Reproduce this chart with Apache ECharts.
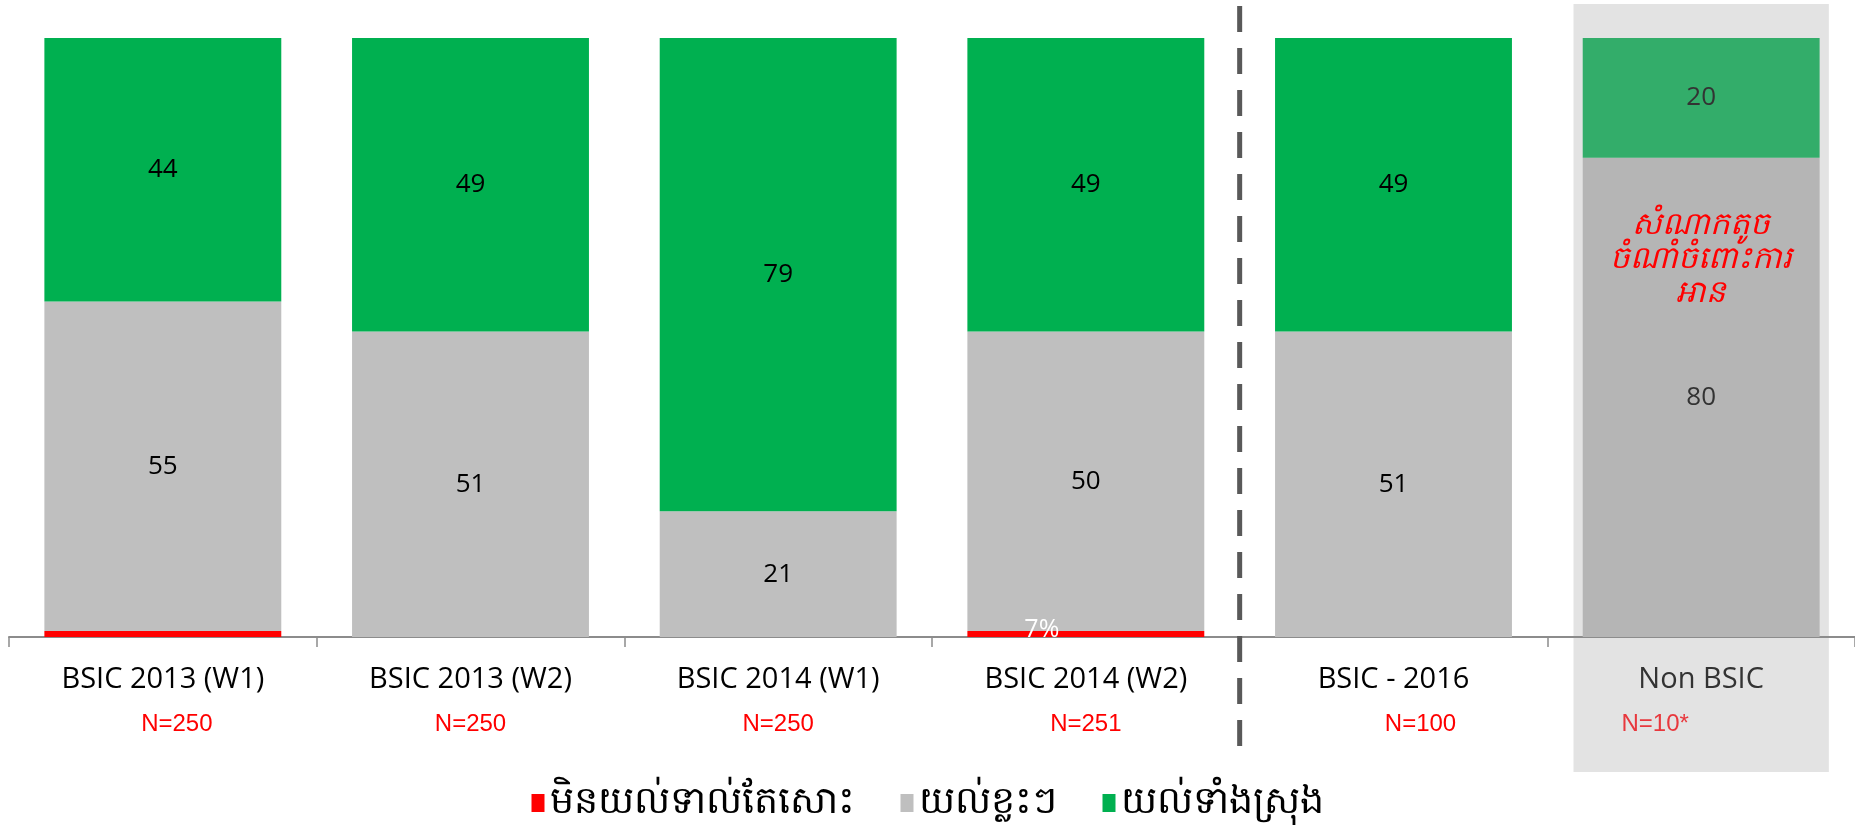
<!DOCTYPE html>
<html>
<head>
<meta charset="utf-8">
<script src="https://cdn.jsdelivr.net/npm/echarts@6/dist/echarts.min.js"></script>
<style>
  html, body { margin: 0; padding: 0; background: #fff; }
  #chart { width: 1855px; height: 831px; }
</style>
</head>
<body>
<div id="chart"></div>
<script>
// categories and sample sizes
const categories = ['BSIC 2013 (W1)', 'BSIC 2013 (W2)', 'BSIC 2014 (W1)', 'BSIC 2014 (W2)', 'BSIC - 2016', 'Non BSIC']
const sampleSizes = ['N=250', 'N=250', 'N=250', 'N=251', 'N=100', 'N=10*']
// shift of the N= label against the bar centre
const sampleShift = [14, 0, 0, 0, 27, -46]

// series (%)
const seriesNames = ['មិនយល់ទាល់តែសោះ', 'យល់ខ្លះៗ', 'យល់ទាំងស្រុង']
const notAtAll = [1, 0, 0, 1, 0, 0]
const somewhat = [55, 51, 21, 50, 51, 80]
const fully = [44, 49, 79, 49, 49, 20]

const noteText = 'សំណាកតូច\nចំណាំចំពោះការ\nអាន'

const colors = ['#ff0000', '#bfbfbf', '#00b050']
const nonBsicColors = ['#ff0000', '#b5b5b5', '#33ad6a']
const fontFamily = '"Open Sans", "Liberation Sans", sans-serif'

const chart = echarts.init(document.getElementById('chart'))

function toItems(values, s) {
  return values.map((v, i) => {
    const last = i === categories.length - 1
    const item = { value: v }
    if (last) {
      item.itemStyle = { color: nonBsicColors[s] }
      item.label = { color: '#333' }
    }
    return item
  })
}

const redItems = toItems(notAtAll, 0)
// odd "7%" label sitting on the red sliver of BSIC 2014 (W2)
redItems[3].label = {
  show: true,
  formatter: '7%',
  color: '#fff',
  fontSize: 25,
  position: 'inside',
  offset: [-44, -4],
  fontFamily
}

const rich = {
  c: { fontSize: 29, lineHeight: 44, color: '#000', fontFamily },
  cg: { fontSize: 29, lineHeight: 44, color: '#333', fontFamily }
}
sampleShift.forEach((s, i) => {
  rich['n' + i] = {
    fontSize: 24,
    lineHeight: 44,
    color: i === 5 ? '#e8383d' : '#ff0000',
    fontFamily: '"Liberation Sans", Arial, sans-serif',
    padding: s >= 0 ? [0, 0, 0, 2 * s] : [0, -2 * s, 0, 0]
  }
})

const barLabel = {
  show: true,
  position: 'inside',
  color: '#000',
  fontSize: 26,
  fontFamily,
  formatter: (p) => (p.value > 0 ? p.value : '')
}

const option = {
  animation: false,
  grid: { left: 9, right: 0, top: 38, bottom: 194 },
  legend: {
    top: 779,
    left: 'center',
    itemWidth: 13,
    itemHeight: 18,
    itemGap: 46,
    icon: 'rect',
    textStyle: { fontSize: 38, color: '#000' },
    data: seriesNames
  },
  xAxis: {
    type: 'category',
    data: categories,
    axisLine: { lineStyle: { color: '#8c8c8c', width: 2 } },
    axisTick: { show: true, length: 10, lineStyle: { color: '#8c8c8c', width: 1.5 } },
    axisLabel: {
      margin: 21,
      formatter: (v, i) => `{${i === 5 ? 'cg' : 'c'}|${v}}\n{n${i}|${sampleSizes[i]}}`,
      rich
    }
  },
  yAxis: { type: 'value', min: 0, max: 100, show: false },
  series: [
    { name: seriesNames[0], type: 'bar', stack: 'a', barWidth: '77%', color: colors[0], data: redItems },
    { name: seriesNames[1], type: 'bar', stack: 'a', barWidth: '77%', color: colors[1], label: barLabel, data: toItems(somewhat, 1) },
    { name: seriesNames[2], type: 'bar', stack: 'a', barWidth: '77%', color: colors[2], label: barLabel, data: toItems(fully, 2) }
  ]
}

chart.setOption(option)

// overlays placed through the chart's own scales
const cx = (i) => chart.convertToPixel({ xAxisIndex: 0 }, categories[i])
const cy = (v) => chart.convertToPixel({ yAxisIndex: 0 }, v)
const step = cx(1) - cx(0)
const dividerX = (cx(3) + cx(4)) / 2

chart.setOption({
  graphic: [
    {
      type: 'rect',
      z: -10,
      shape: { x: cx(5) - step * 0.415, y: 4, width: step * 0.83, height: 768 },
      style: { fill: '#e3e3e3' }
    },
    {
      type: 'line',
      z: 10,
      shape: { x1: dividerX, y1: 6, x2: dividerX, y2: 749 },
      style: { stroke: '#595959', lineWidth: 5, lineDash: [26, 16] }
    },
    {
      type: 'text',
      z: 10,
      x: cx(5),
      y: cy(63),
      style: {
        text: noteText,
        fill: '#ff0000',
        fontSize: 31,
        fontStyle: 'italic',
        lineHeight: 34,
        align: 'center',
        verticalAlign: 'middle'
      }
    }
  ]
})
</script>
</body>
</html>
